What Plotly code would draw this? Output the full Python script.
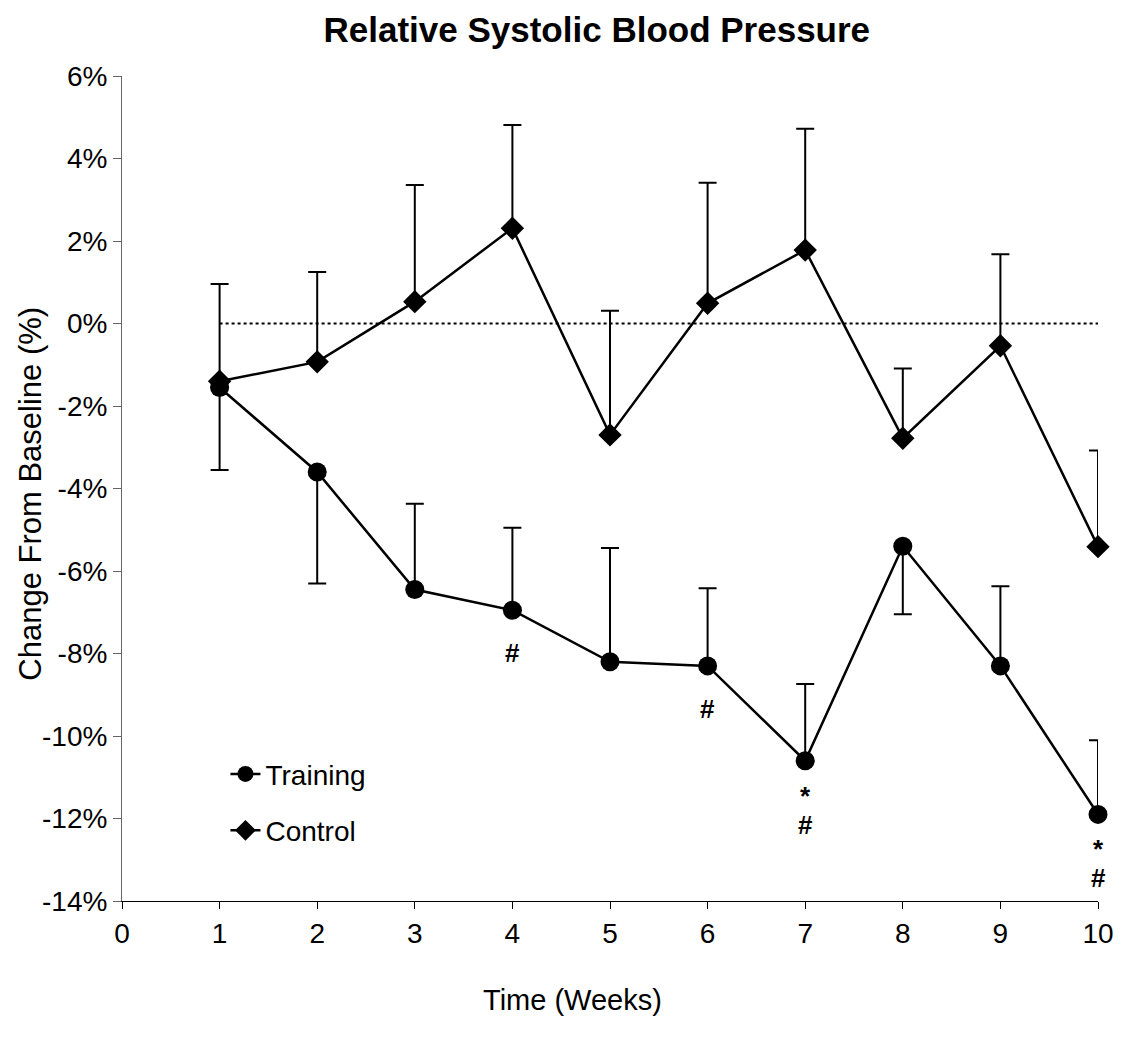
import plotly.graph_objects as go

weeks = [1, 2, 3, 4, 5, 6, 7, 8, 9, 10]
training = [-1.55, -3.6, -6.45, -6.95, -8.2, -8.3, -10.6, -5.4, -8.3, -11.9]
training_err_up = [0, 0, 2.08, 2.0, 2.76, 1.88, 1.86, 0, 1.93, 1.8]
training_err_down = [2.0, 2.7, 0, 0, 0, 0, 0, 1.65, 0, 0]
control = [-1.4, -0.93, 0.53, 2.31, -2.70, 0.49, 1.78, -2.78, -0.54, -5.41]
control_err_up = [2.36, 2.18, 2.83, 2.5, 3.01, 2.92, 2.94, 1.69, 2.22, 2.33]
baseline_x = [1, 10]
baseline_y = [0, 0]
y_ticks = [6, 4, 2, 0, -2, -4, -6, -8, -10, -12, -14]
y_tick_labels = ["6%", "4%", "2%", "0%", "-2%", "-4%", "-6%", "-8%", "-10%", "-12%", "-14%"]
x_ticks = [0, 1, 2, 3, 4, 5, 6, 7, 8, 9, 10]
sig_weeks = [4, 6, 7, 10]
sig_marks = [["#"], ["#"], ["*", "#"], ["*", "#"]]

FONT = "Liberation Sans, Arial, sans-serif"

fig = go.Figure()

fig.add_trace(go.Scatter(
    x=baseline_x, y=baseline_y, mode="lines",
    line=dict(color="black", width=2, dash="dot"),
    showlegend=False, hoverinfo="skip"))

fig.add_trace(go.Scatter(
    x=weeks, y=control, mode="lines+markers", name="Control",
    legendgroup="c", legendrank=2, cliponaxis=False,
    line=dict(color="black", width=2.5),
    marker=dict(symbol="diamond", size=18, color="black"),
    error_y=dict(type="data", symmetric=False, array=control_err_up,
                 arrayminus=[0] * len(control), color="black",
                 thickness=2, width=9)))

fig.add_trace(go.Scatter(
    x=weeks, y=training, mode="lines+markers", name="Training",
    legendgroup="t", legendrank=1, cliponaxis=False,
    line=dict(color="black", width=2.5),
    marker=dict(symbol="circle", size=19, color="black"),
    error_y=dict(type="data", symmetric=False, array=training_err_up,
                 arrayminus=training_err_down, color="black",
                 thickness=2, width=9)))

annotations = []
for w, marks in zip(sig_weeks, sig_marks):
    base = training[weeks.index(w)]
    if len(marks) == 1:
        shifts = [-43]
    else:
        shifts = [-35, -64]
    for m, s in zip(marks, shifts):
        annotations.append(dict(
            x=w, y=base, xref="x", yref="y", text=f"<b>{m}</b>",
            showarrow=False, yshift=s, yanchor="middle",
            font=dict(family=FONT, size=26, color="black")))

annotations.append(dict(
    x=0.462, y=-0.12, xref="paper", yref="paper", text="Time (Weeks)",
    showarrow=False, xanchor="center", yanchor="middle",
    font=dict(family=FONT, size=29, color="black")))
annotations.append(dict(
    x=-0.094, y=0.494, xref="paper", yref="paper",
    text="Change From Baseline (%)", textangle=-90,
    showarrow=False, xanchor="center", yanchor="middle",
    font=dict(family=FONT, size=31, color="black")))

fig.update_layout(
    width=1126, height=1038,
    margin=dict(l=122, r=28, t=76, b=137, pad=0),
    paper_bgcolor="white", plot_bgcolor="white",
    font=dict(family=FONT, color="black"),
    title=dict(text="<b>Relative Systolic Blood Pressure</b>",
               x=0.53, xanchor="center", y=0.971, yanchor="middle",
               font=dict(family=FONT, size=35, color="black")),
    showlegend=True,
    legend=dict(x=0.106, y=0.184, xanchor="left", yanchor="top",
                bgcolor="rgba(0,0,0,0)", tracegroupgap=17,
                font=dict(family=FONT, size=28, color="black")),
    annotations=annotations,
    xaxis=dict(range=[0, 10], tickvals=x_ticks, showgrid=False,
               zeroline=False, showline=True, linecolor="black",
               linewidth=1, ticks="outside", ticklen=7, tickcolor="black",
               tickfont=dict(family=FONT, size=28)),
    yaxis=dict(range=[-14, 6], tickvals=y_ticks, ticktext=y_tick_labels,
               showgrid=False, zeroline=False, showline=True,
               linecolor="#666", linewidth=1, ticks="outside", ticklen=8,
               tickcolor="#666", tickfont=dict(family=FONT, size=28)),
)

fig.write_html("out.html")
